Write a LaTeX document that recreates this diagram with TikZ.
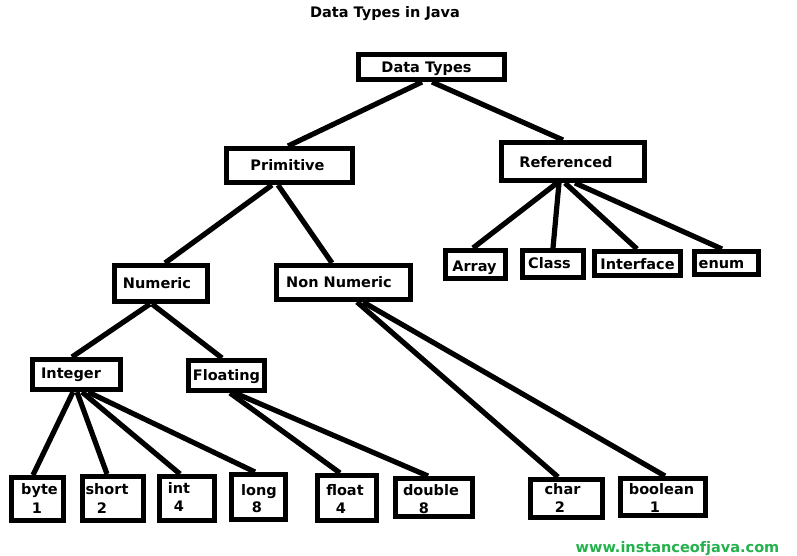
\documentclass[tikz,border=0pt]{standalone}
\usepackage{fontspec}
\setmainfont{DejaVu Sans}
\definecolor{wmgreen}{RGB}{34,177,76}
\tikzset{
  box/.style={draw=black, line width=5pt, fill=white, rectangle, inner sep=0pt},
  lbl/.style={inner sep=0pt, font=\fontsize{14.5}{17}\selectfont\bfseries, text height=10.5pt, text depth=0pt, anchor=center},
  conn/.style={line width=5.2pt, black}
}
\begin{document}
\begin{tikzpicture}[x=1pt,y=-1pt]
\useasboundingbox (0,0) rectangle (797,555);
% title
\node[lbl] (title) at (385,12) {Data Types in Java};
% boxes
\node[box, minimum width=146pt, minimum height=25pt] (dt) at (431.5,67) {};
\node[box, minimum width=126pt, minimum height=34pt] (prim) at (289.5,165.5) {};
\node[box, minimum width=143pt, minimum height=38pt] (ref) at (573,161.5) {};
\node[box, minimum width=93pt, minimum height=36pt] (num) at (161,283.5) {};
\node[box, minimum width=134pt, minimum height=34pt] (non) at (343.5,282.5) {};
\node[box, minimum width=60pt, minimum height=28pt] (arr) at (475.5,264.5) {};
\node[box, minimum width=61pt, minimum height=27pt] (cls) at (553,264) {};
\node[box, minimum width=86pt, minimum height=24pt] (ifc) at (637.5,263.5) {};
\node[box, minimum width=64pt, minimum height=23pt] (enm) at (726.5,263) {};
\node[box, minimum width=88pt, minimum height=30pt] (ing) at (76.5,374.5) {};
\node[box, minimum width=76pt, minimum height=30pt] (flo) at (226.5,375.5) {};
\node[box, minimum width=52pt, minimum height=43pt] (byt) at (37.5,499) {};
\node[box, minimum width=61pt, minimum height=44pt] (sht) at (113,498.5) {};
\node[box, minimum width=55pt, minimum height=44pt] (int) at (187,498.5) {};
\node[box, minimum width=54pt, minimum height=45pt] (lng) at (258.5,497) {};
\node[box, minimum width=59pt, minimum height=45pt] (flt) at (347,498) {};
\node[box, minimum width=77pt, minimum height=38pt] (dbl) at (434,497.5) {};
\node[box, minimum width=72pt, minimum height=38pt] (chr) at (566.5,498.5) {};
\node[box, minimum width=85pt, minimum height=37pt] (bol) at (663,497) {};
% labels
\node[lbl] (tdt) at (426.5,67) {Data Types};
\node[lbl] (tprim) at (287.5,165) {Primitive};
\node[lbl] (tref) at (566,162) {Referenced};
\node[lbl] (tnum) at (157,283) {Numeric};
\node[lbl] (tnon) at (339,282) {Non Numeric};
\node[lbl] (tarr) at (474.5,266) {Array};
\node[lbl] (tcls) at (549.5,263) {Class};
\node[lbl] (tifc) at (637.5,264) {Interface};
\node[lbl] (tenm) at (721.5,263) {enum};
\node[lbl] (ting) at (71,373) {Integer};
\node[lbl] (tflo) at (226.5,375) {Floating};
\node[lbl] (tbyt) at (39.5,489) {byte};
\node[lbl] (tbyt2) at (37,508) {1};
\node[lbl] (tsht) at (107,489) {short};
\node[lbl] (tsht2) at (102,508) {2};
\node[lbl] (tint) at (179,488) {int};
\node[lbl] (tint2) at (179,506) {4};
\node[lbl] (tlng) at (259,490) {long};
\node[lbl] (tlng2) at (257,507) {8};
\node[lbl] (tflt) at (345,490) {float};
\node[lbl] (tflt2) at (341,508) {4};
\node[lbl] (tdbl) at (431,490) {double};
\node[lbl] (tdbl2) at (424,508) {8};
\node[lbl] (tchr) at (562.5,489) {char};
\node[lbl] (tchr2) at (560,507) {2};
\node[lbl] (tbol) at (661.5,489) {boolean};
\node[lbl] (tbol2) at (655,507) {1};
% watermark
\node[lbl, text=wmgreen] (wm) at (677.5,547) {www.instanceofjava.com};
% connectors
\draw[conn] ([xshift=-9.5pt]dt.south) -- ([xshift=-1.5pt]prim.north);
\draw[conn] ([xshift=0.5pt]dt.south) -- ([xshift=-10pt]ref.north);
\draw[conn] ([xshift=-17.5pt]prim.south) -- ([xshift=4pt]num.north);
\draw[conn] ([xshift=-11.5pt]prim.south) -- ([xshift=-11.5pt]non.north);
\draw[conn] ([xshift=-16pt]ref.south) -- ([xshift=-2.5pt]arr.north);
\draw[conn] ([xshift=-14pt]ref.south) -- (cls.north);
\draw[conn] ([xshift=-8pt]ref.south) -- ([xshift=-0.5pt]ifc.north);
\draw[conn] ([xshift=2pt]ref.south) -- ([xshift=-4.5pt]enm.north);
\draw[conn] ([xshift=-11pt]num.south) -- ([xshift=-4.5pt]ing.north);
\draw[conn] ([xshift=-9pt]num.south) -- ([xshift=-4.5pt]flo.north);
\draw[conn] ([xshift=13.5pt]non.south) -- ([xshift=-8.5pt]chr.north);
\draw[conn] ([xshift=19.5pt]non.south) -- ([xshift=2pt]bol.north);
\draw[conn] ([xshift=-3.5pt]ing.south) -- ([xshift=-4.5pt]byt.north);
\draw[conn] ([xshift=0.5pt]ing.south) -- ([xshift=-6pt]sht.north);
\draw[conn] ([xshift=5.5pt]ing.south) -- ([xshift=-7pt]int.north);
\draw[conn] ([xshift=11.5pt]ing.south) -- ([xshift=-3.5pt]lng.north);
\draw[conn] ([xshift=3.5pt]flo.south) -- ([xshift=-7pt]flt.north);
\draw[conn] ([xshift=8.5pt]flo.south) -- ([xshift=-6pt]dbl.north);
\end{tikzpicture}
\end{document}
